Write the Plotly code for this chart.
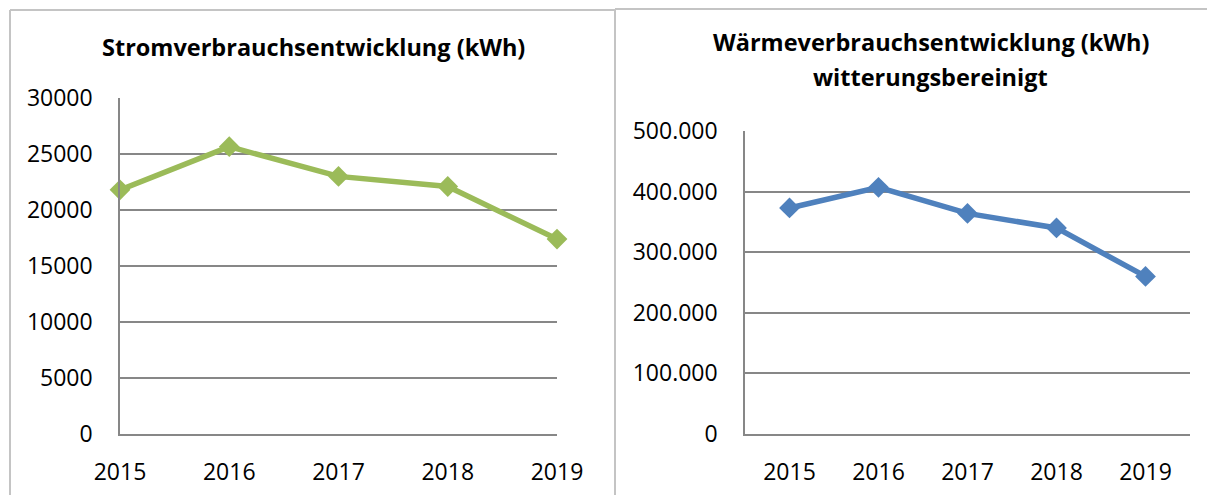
import plotly.graph_objects as go

W, H = 1215, 495
OFF = 8  # the page body adds an 8px margin; compensate so pixels line up

years = ["2015", "2016", "2017", "2018", "2019"]
strom_kwh = [21800, 25650, 23000, 22100, 17400]
waerme_kwh = [373000, 407000, 364000, 340000, 260000]

strom_ticks = [0, 5000, 10000, 15000, 20000, 25000, 30000]
waerme_ticks = [0, 100000, 200000, 300000, 400000, 500000]

title_left = "Stromverbrauchsentwicklung (kWh)"
title_right_1 = "Wärmeverbrauchsentwicklung (kWh)"
title_right_2 = "witterungsbereinigt"

GREEN = "#9BBB59"
BLUE = "#4F81BD"
GRID = "#878787"
BORDER = "#c4c4c4"
FONT = "Open Sans"

FW, FH = W - OFF, H - OFF


def px(x):
    return (x - OFF) / FW


def py(y):
    return 1 - (y - OFF) / FH


fig = go.Figure()
fig.add_trace(go.Scatter(
    x=years, y=strom_kwh, xaxis="x", yaxis="y", mode="lines+markers",
    line=dict(color=GREEN, width=5.5),
    marker=dict(symbol="diamond", size=16, color=GREEN),
    cliponaxis=False, showlegend=False))
fig.add_trace(go.Scatter(
    x=years, y=waerme_kwh, xaxis="x2", yaxis="y2", mode="lines+markers",
    line=dict(color=BLUE, width=5.5),
    marker=dict(symbol="diamond", size=16, color=BLUE),
    cliponaxis=False, showlegend=False))

tickfont = dict(family=FONT, size=23, color="#000000")

axis_common = dict(showgrid=False, showline=True, linecolor=GRID, linewidth=1.5,
                   ticks="", tickfont=tickfont, type="category", fixedrange=True,
                   automargin=False)
yaxis_common = dict(showgrid=True, gridcolor=GRID, gridwidth=1.5, showline=True,
                    linecolor=GRID, linewidth=1.5, zeroline=False, ticks="",
                    tickfont=tickfont, fixedrange=True, ticklabelstandoff=21,
                    automargin=False)

fig.update_layout(
    template="none",
    width=FW, height=FH, autosize=False,
    margin=dict(l=0, r=0, t=0, b=0, pad=0),
    paper_bgcolor="white", plot_bgcolor="white",
    separators=",.",
    xaxis=dict(domain=[px(120), px(557)], range=[0, 4], anchor="y",
               ticklabelstandoff=17, **axis_common),
    yaxis=dict(domain=[py(434), py(98)], range=[0, 30000], anchor="x",
               tickvals=strom_ticks, tickformat="d", **yaxis_common),
    xaxis2=dict(domain=[px(745), px(1190)], range=[-0.5, 4.5], anchor="y2",
                ticklabelstandoff=17, **axis_common),
    yaxis2=dict(domain=[py(434), py(131)], range=[0, 500000], anchor="x2",
                tickvals=waerme_ticks, tickformat=",d", **yaxis_common),
)

titlefont = dict(family=FONT, size=23.5, color="#000000")
fig.add_annotation(text="<b>" + title_left + "</b>", x=px(313), y=py(47),
                   xref="paper", yref="paper", showarrow=False,
                   xanchor="center", yanchor="middle", font=titlefont)
fig.add_annotation(text="<b>" + title_right_1 + "</b>", x=px(931), y=py(42),
                   xref="paper", yref="paper", showarrow=False,
                   xanchor="center", yanchor="middle", font=titlefont)
fig.add_annotation(text="<b>" + title_right_2 + "</b>", x=px(931), y=py(77),
                   xref="paper", yref="paper", showarrow=False,
                   xanchor="center", yanchor="middle", font=titlefont)

# chart frames
border = dict(color=BORDER, width=2)
shapes = [
    dict(type="line", xref="paper", yref="paper", x0=px(10), x1=px(10), y0=py(10), y1=py(510), line=border),
    dict(type="line", xref="paper", yref="paper", x0=px(10), x1=px(615), y0=py(10), y1=py(10), line=border),
    dict(type="line", xref="paper", yref="paper", x0=px(615), x1=px(615), y0=py(9), y1=py(510), line=border),
    dict(type="line", xref="paper", yref="paper", x0=px(615), x1=px(1230), y0=py(9), y1=py(9), line=border),
]
fig.update_layout(shapes=shapes)

fig.write_html("out.html")
